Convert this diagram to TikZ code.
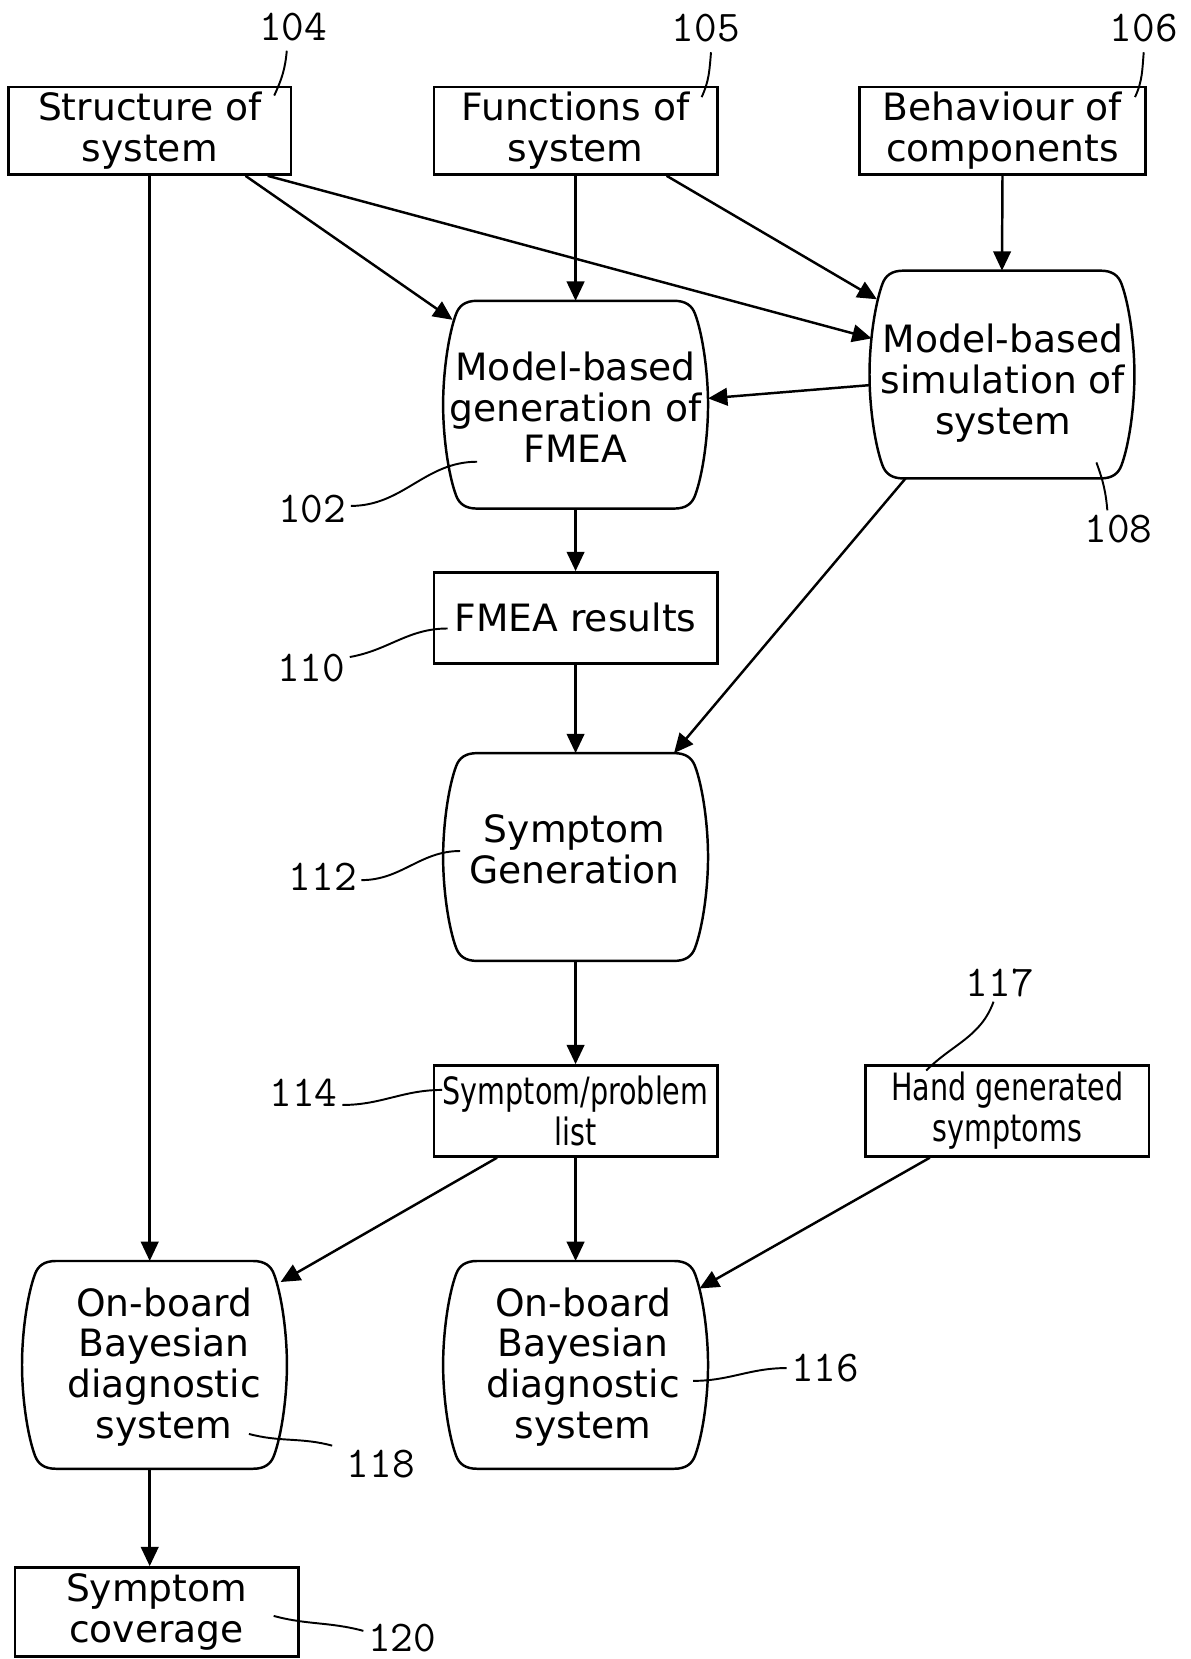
\documentclass[tikz,border=0pt]{standalone}
\usepackage{fontspec}
\setmainfont{DejaVu Sans}
\newfontfamily\narrowfont{DejaVu Sans}[FakeStretch=0.76]
\usetikzlibrary{arrows.meta, positioning}

% outline of the bulging process boxes
\newcommand{\barrelline}[1]{%
  \draw ([xshift=0.34cm]#1.north west) -- ([xshift=-0.34cm]#1.north east)
    .. controls ([xshift=-0.22cm]#1.north east) and ([xshift=-0.16cm,yshift=-0.05cm]#1.north east) .. ([xshift=-0.13cm,yshift=-0.13cm]#1.north east)
    .. controls ([xshift=-0.055cm,yshift=-0.33cm]#1.north east) and ([yshift=0.33cm]#1.east) .. (#1.east)
    .. controls ([yshift=-0.33cm]#1.east) and ([xshift=-0.055cm,yshift=0.33cm]#1.south east) .. ([xshift=-0.13cm,yshift=0.13cm]#1.south east)
    .. controls ([xshift=-0.16cm,yshift=0.05cm]#1.south east) and ([xshift=-0.22cm]#1.south east) .. ([xshift=-0.34cm]#1.south east)
    -- ([xshift=0.34cm]#1.south west)
    .. controls ([xshift=0.22cm]#1.south west) and ([xshift=0.16cm,yshift=0.05cm]#1.south west) .. ([xshift=0.13cm,yshift=0.13cm]#1.south west)
    .. controls ([xshift=0.055cm,yshift=0.33cm]#1.south west) and ([yshift=-0.33cm]#1.west) .. (#1.west)
    .. controls ([yshift=0.33cm]#1.west) and ([xshift=0.055cm,yshift=-0.33cm]#1.north west) .. ([xshift=0.13cm,yshift=-0.13cm]#1.north west)
    .. controls ([xshift=0.16cm,yshift=-0.05cm]#1.north west) and ([xshift=0.22cm]#1.north west) .. cycle;}

\begin{document}
\begin{tikzpicture}[x=0.010578cm, y=-0.010578cm, line width=0.7pt,
    font=\fontsize{10.7}{11.6}\selectfont,
    box/.style={draw, minimum width=2.835cm, minimum height=0.89cm, align=center, inner sep=0pt},
    barrel/.style={minimum width=2.623cm, minimum height=2.052cm, inner sep=0pt},
    ref/.style={font=\fontsize{12.5}{14}\ttfamily, inner sep=1pt},
    leader/.style={line width=0.55pt},
    flow/.style={-{Triangle[length=5.5pt,width=5pt]}}]
  \useasboundingbox (0,0) rectangle (1125,1568);

  % Inputs
  \node[box, minimum width=2.824cm, minimum height=0.878cm] (s104) at (141.5,123.5) {Structure of\\system};
  \node[box, minimum height=0.878cm] (s105) at (544,123.5) {Functions of\\system};
  \node[box, minimum width=2.856cm, minimum height=0.878cm] (s106) at (947.5,123.5) {Behaviour of\\components};

  % Model-based steps
  \node[barrel] (b102) at (544,382.5) {};
  \node[align=center] (t102) at (544,385) {Model-based\\generation of\\FMEA};
  \node[barrel] (b108) at (947,354) {};
  \node[align=center] (t108) at (948,362) {Model-based\\simulation of\\system};
  \barrelline{b102}
  \barrelline{b108}

  \node[box, minimum height=0.91cm] (r110) at (544,584) {FMEA results};

  \node[barrel] (b112) at (544,810) {};
  \node[align=center] (t112) at (543,803) {Symptom\\Generation};
  \barrelline{b112}

  \node[box, minimum height=0.91cm, font=\fontsize{10.7}{11.6}\narrowfont] (r114) at (544,1050) {Symptom/problem\\list};
  \node[box, minimum height=0.91cm, font=\fontsize{10.7}{11.6}\narrowfont] (r117) at (952,1050) {Hand generated\\symptoms};

  % Diagnostic systems
  \node[barrel] (d118) at (146,1290) {};
  \node[align=center] (t118) at (155,1292) {On-board\\Bayesian\\diagnostic\\system};
  \node[barrel] (d116) at (544,1290) {};
  \node[align=center] (t116) at (551,1292) {On-board\\Bayesian\\diagnostic\\system};
  \barrelline{d118}
  \barrelline{d116}

  \node[box] (r120) at (148,1523.5) {Symptom\\coverage};

  % Arrows
  \draw[flow] (s104.south) -- (s104.south |- d118.north);
  \draw[flow] ([xshift=0.957cm]s104.south) -- ([xshift=0.095cm,yshift=-0.19cm]b102.north west);
  \draw[flow] ([xshift=1.179cm]s104.south) -- ([xshift=0.021cm,yshift=-0.677cm]b108.north west);
  \draw[flow] (s105.south) -- (b102.north);
  \draw[flow] ([xshift=0.91cm]s105.south) -- ([xshift=0.074cm,yshift=-0.286cm]b108.north west);
  \draw[flow] (s106.south) -- (b108.north);
  \draw[flow] ([yshift=-0.106cm]b108.west) -- ([yshift=0.063cm]b102.east);
  \draw[flow] (b102.south) -- (r110.north);
  \draw[flow] (r110.south) -- (b112.north);
  \draw[flow] ([xshift=0.36cm]b108.south west) -- ([xshift=-0.34cm]b112.north east);
  \draw[flow] (b112.south) -- (r114.north);
  \draw[flow] (r114.south) -- (d116.north);
  \draw[flow] ([xshift=0.645cm]r114.south west) -- ([xshift=-0.063cm,yshift=-0.21cm]d118.north east);
  \draw[flow] ([xshift=0.656cm]r117.south west) -- ([xshift=-0.085cm,yshift=-0.275cm]d116.north east);
  \draw[flow] (s104.south |- d118.south) -- (s104.south |- r120.north);

  % Reference numerals
  \node[ref] (l104) at (277,25.5) {104};
  \node[ref] (l105) at (667,27) {105};
  \node[ref] (l106) at (1081,27) {106};
  \node[ref] (l102) at (295,481) {102};
  \node[ref] (l108) at (1057,500) {108};
  \node[ref] (l110) at (294,631) {110};
  \node[ref] (l112) at (305,829) {112};
  \node[ref] (l114) at (287,1033) {114};
  \node[ref] (l117) at (945,929) {117};
  \node[ref] (l118) at (360,1384) {118};
  \node[ref] (l116) at (780,1293) {116};
  \node[ref] (l120) at (380,1548) {120};

  \draw[leader] ([xshift=-0.063cm,yshift=-0.05cm]l104.south) to[out=-95,in=65] ([xshift=-0.18cm,yshift=-0.1cm]s104.north east);
  \draw[leader] ([xshift=0.053cm,yshift=-0.05cm]l105.south) to[out=-95,in=65] ([xshift=-0.17cm,yshift=-0.116cm]s105.north east);
  \draw[leader] ([yshift=-0.05cm]l106.south) to[out=-95,in=65] ([xshift=-0.116cm,yshift=-0.116cm]s106.north east);
  \draw[leader] ([yshift=0.03cm]l102.east) to[out=0,in=180] ([xshift=0.34cm,yshift=-0.57cm]b102.west);
  \draw[leader] ([xshift=-0.11cm]l108.north) to[out=95,in=-70] ([xshift=-0.38cm,yshift=0.16cm]b108.south east);
  \draw[leader] ([yshift=0.106cm]l110.east) to[out=10,in=180] ([xshift=0.15cm,yshift=-0.106cm]r110.west);
  \draw[leader] ([yshift=-0.03cm]l112.east) to[out=0,in=180] ([xshift=0.17cm,yshift=0.06cm]b112.west);
  \draw[leader] ([yshift=-0.12cm]l114.east) to[out=0,in=180] ([xshift=0.095cm,yshift=0.21cm]r114.west);
  \draw[leader] ([xshift=-0.063cm]l117.south) to[out=-110,in=45] ([xshift=0.62cm,yshift=-0.063cm]r117.north west);
  \draw[leader] ([xshift=-0.1cm]l118.north west) to[out=165,in=-15] ([xshift=-0.38cm,yshift=-0.69cm]d118.east);
  \draw[leader] (l116.west) to[out=180,in=0] ([xshift=-0.15cm,yshift=-0.16cm]d116.east);
  \draw[leader] ([yshift=0.07cm]l120.west) to[out=165,in=-15] ([xshift=-0.26cm,yshift=-0.04cm]r120.east);
\end{tikzpicture}
\end{document}
